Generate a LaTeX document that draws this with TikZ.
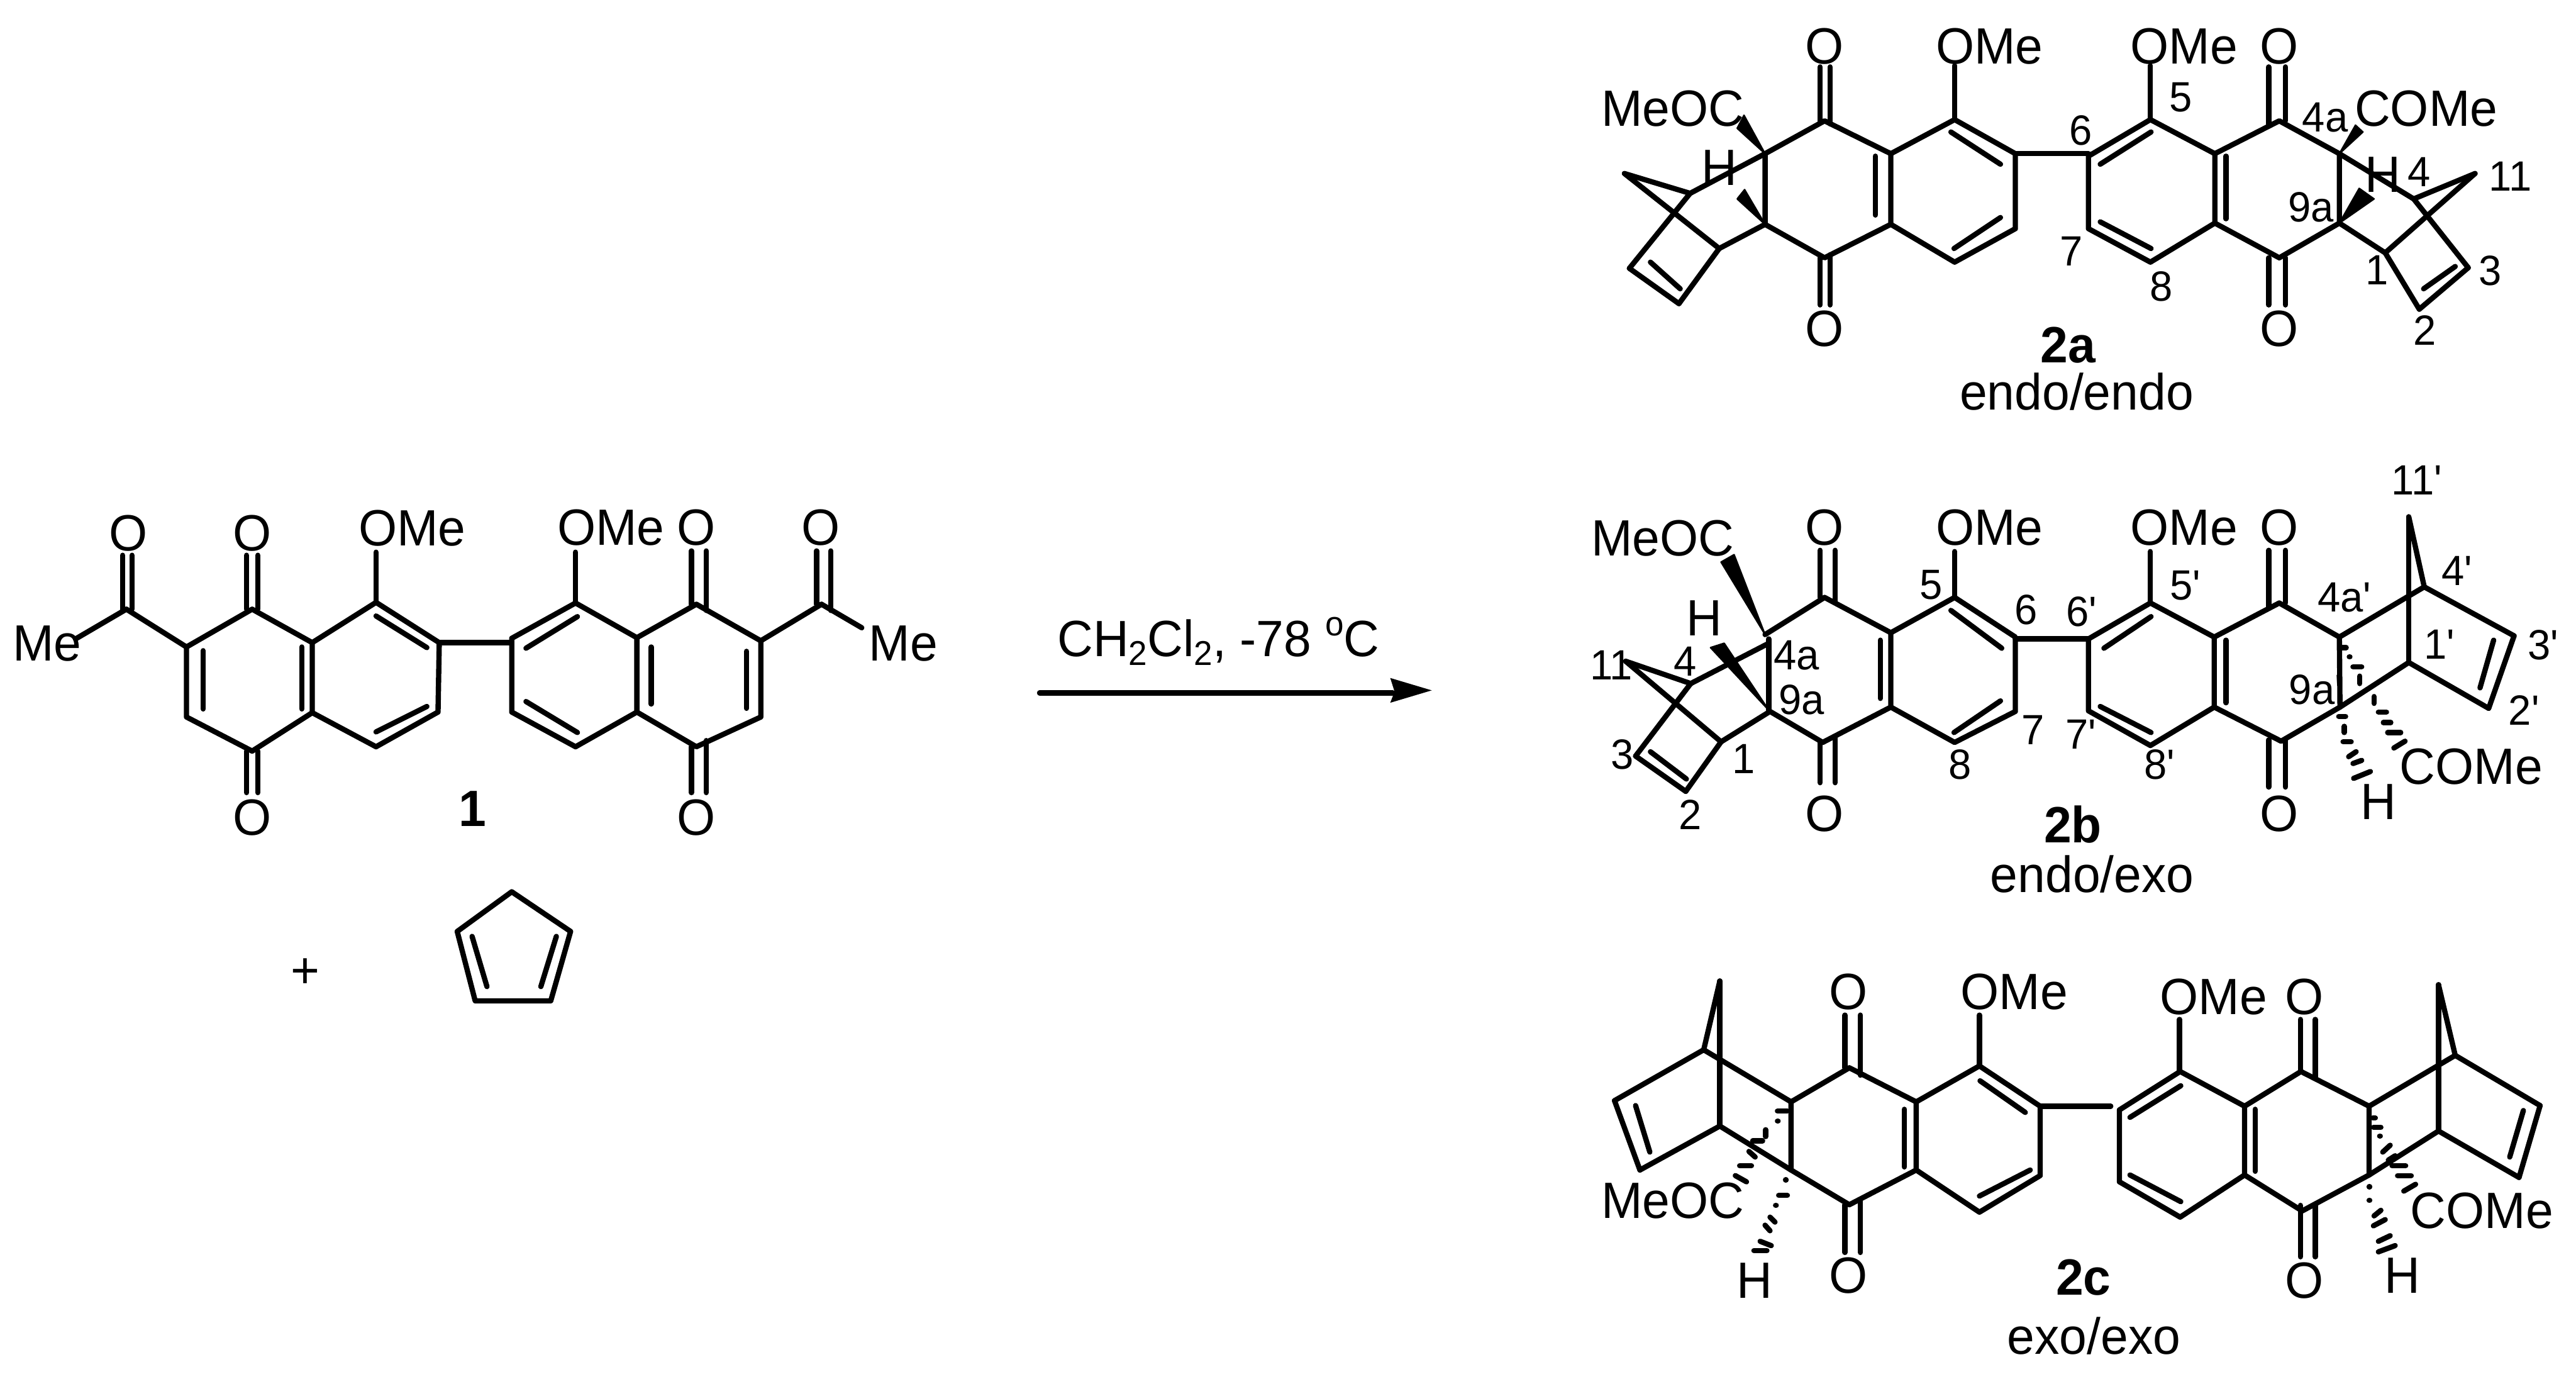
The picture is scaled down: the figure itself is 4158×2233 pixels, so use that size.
\documentclass[tikz,border=0pt]{standalone}
\usepackage{fontspec}
\setmainfont{Liberation Sans}[FakeStretch=0.97,Ligatures=TeXOff]
\newcommand{\bigfs}{\fontsize{23.4pt}{26pt}\selectfont}
\newcommand{\numfs}{\fontsize{19.4pt}{22pt}\selectfont}
\newcommand{\subfs}{\fontsize{15.8pt}{18pt}\selectfont}
\newcommand{\defpts}[1]{\foreach \n/\x/\y in {#1} {\coordinate (\n) at (\x,\y);}}
\newcommand{\bonds}[1]{\foreach \p/\q in {#1} {\draw[bond] (\p) -- (\q);}}
\newcommand{\segs}[1]{\foreach \a/\b/\c/\d in {#1} {\draw[bond] (\a,\b) -- (\c,\d);}}
\tikzset{
  bond/.style={line width=0.085cm,line cap=round,line join=round,black},
  atomlab/.style={font=\bigfs,inner sep=0pt,anchor=base west,black,xshift=-0.03cm},
  atomctr/.style={font=\bigfs,inner sep=0pt,anchor=base,black},
  cpdlab/.style={font=\bigfs\bfseries,inner sep=0pt,anchor=base,black},
  numlab/.style={font=\numfs,inner sep=0pt,anchor=center,black},
  wedgefill/.style={fill=black,draw=black,line width=0.025cm,line join=round},
}
\begin{document}
\begin{tikzpicture}[x=0.01cm,y=-0.01cm]
\useasboundingbox (0,0) rectangle (4158,2233);
\fill[white] (0,0) rectangle (4158,2233);

% ---------- compound 1
\defpts{la/204/983,lb/122/1031,lc/301/1044,ld/301/1157,le/407/1212,lf/504/1150,lg/504/1037,lh/407/983,
li/607/972,lj/709/1037,lk/707/1149,lm/607/1205,
ra/929/973,rb/826/1030,rc/826/1149,rd/929/1205,re/1028/1029,rf/1028/1149,rg/1124/975,rh/1228/1034,ri/1228/1157,rj/1124/1205,rk/1326/975,rl/1391/1013,
bi1/709/1037,bi2/826/1037}
\draw[bond] (lc)--(lh)--(lg)--(lf)--(le)--(ld)--cycle;
\draw[bond] (lg)--(li)--(lj)--(lk)--(lm)--(lf);
\draw[bond] (ra)--(rb)--(rc)--(rd)--(rf)--(re)--cycle;
\draw[bond] (re)--(rg)--(rh)--(ri)--(rj)--(rf);
\bonds{la/lb,la/lc,bi1/bi2,rk/rl,rk/rh}
\segs{198/896/198/983,213/896/213/983,398/896/398/983,416/896/416/983,398/1212/398/1279,416/1212/416/1279,
328/1050/328/1144,487/1044/487/1144,607/994/689/1045,689/1140/607/1181,607/891/607/972,
929/891/929/973,1116/889/1116/975,1140/889/1140/985,1318/889/1318/975,1341/889/1341/985,1116/1205/1116/1279,1140/1195/1140/1279,
1051/1044/1051/1136,1205/1051/1205/1143,932/995/849/1046,849/1132/932/1182}
\node[atomlab] (t1me1) at (23,1066) {Me};
\node[atomctr] (t1o1) at (207,889) {O};
\node[atomctr] (t1o2) at (407,889) {O};
\node[atomctr] (t1o3) at (407,1348) {O};
\node[atomlab] (t1ome1) at (581,881) {OMe};
\node[atomlab] (t1ome2) at (902,880) {OMe};
\node[atomctr] (t1o4) at (1124,880) {O};
\node[atomctr] (t1o5) at (1325,880) {O};
\node[atomctr] (t1o6) at (1124,1348) {O};
\node[atomlab] (t1me2) at (1405,1066) {Me};
\node[cpdlab] (c1) at (763,1333) {1};
\node[atomctr] (plus) at (493,1594) {+};

% ---------- cyclopentadiene
\defpts{cp1/826/1439,cp2/738/1503,cp3/767/1615,cp4/889/1615,cp5/921/1503,cp6/762/1511,cp7/786/1592,cp8/898/1511,cp9/873/1592}
\draw[bond] (cp1)--(cp2)--(cp3)--(cp4)--(cp5)--cycle;
\bonds{cp6/cp7,cp8/cp9}

% ---------- reaction arrow
\coordinate (ar1) at (1678,1118);
\coordinate (ar2) at (2248,1118);
\coordinate (art) at (2311,1114);
\draw[bond] (ar1)--(ar2);
\fill[wedgefill,draw=none] (art) -- (2244,1094) -- (2251,1116) -- (2244,1134) -- cycle;
\node[atomlab] (cond) at (1709,1059) {CH\raisebox{-0.14cm}{\subfs 2}Cl\raisebox{-0.14cm}{\subfs 2}, -78 \raisebox{0.335cm}{\subfs o}C};

% ---------- 2a left
\defpts{A/2945/195,B/2849/248,C/2849/362,D/2945/416,E/3052/248,F/3052/362,G/3155/193,H/3253/248,I/3253/369,J/3155/423,
Na/2728/312,Nb/2622/280,Nc/2775/401,Nd/2630/433,Ne/2710/490}
\draw[bond] (A)--(B)--(C)--(D)--(F)--(E)--cycle;
\draw[bond] (E)--(G)--(H)--(I)--(J)--(F);
\bonds{B/Na,Na/Nb,Nb/Nc,Na/Nd,Nd/Ne,Ne/Nc,Nc/C}
\segs{3027/252/3027/347,3149/213/3229/265,3229/351/3154/401,2664/423/2712/466,
2938/108/2938/195,2954/108/2954/200,2938/416/2938/492,2954/411/2954/492,3155/106/3155/193}
\fill[wedgefill] (B) -- (2815,186) -- (2804,207) -- cycle;
\fill[wedgefill] (C) -- (2816,306) -- (2804,321) -- cycle;
\node[atomlab] (amc) at (2587,204) {MeOC};
\node[atomctr] (ah1) at (2775,299) {H};
\node[atomctr] (ao1) at (2945,103) {O};
\node[atomctr] (ao2) at (2945,559) {O};
\node[atomlab] (aome1) at (3127,103) {OMe};

% ---------- 2a right
\defpts{Ag/3471/193,Ah/3371/252,Ai/3371/369,Aj/3471/423,Ae/3575/248,Af/3575/360,Aa/3679/195,Ab/3776/248,Ac/3776/360,Ad/3679/416,
Pa/3896/321,Pb/3995/280,Pc/3850/408,Pd/3984/432,Pe/3905/499,Bia/3253/248,Bib/3371/248}
\draw[bond] (Ag)--(Ah)--(Ai)--(Aj)--(Af)--(Ae)--cycle;
\draw[bond] (Ae)--(Aa)--(Ab)--(Ac)--(Ad)--(Af);
\bonds{Bia/Bib,Ab/Pa,Pa/Pb,Pb/Pc,Pa/Pd,Pd/Pe,Pe/Pc,Pc/Ac}
\segs{3593/252/3593/353,3472/213/3390/265,3390/358/3472/401,3912/466/3963/430,
3662/108/3662/200,3689/108/3689/195,3662/416/3662/492,3689/416/3689/492,3471/106/3471/193}
\fill[wedgefill] (Ab) -- (3802,202) -- (3814,213) -- cycle;
\fill[wedgefill] (Ac) -- (3808,304) -- (3832,321) -- cycle;
\node[atomlab] (aome2) at (3441,103) {OMe};
\node[atomctr] (ao3) at (3679,103) {O};
\node[atomctr] (ao4) at (3679,559) {O};
\node[atomlab] (acm) at (3803,204) {COMe};
\node[atomctr] (ah2) at (3846,310) {H};
\node[numlab] (an5) at (3520,157) {5};
\node[numlab] (an6) at (3359,211) {6};
\node[numlab] (an4a) at (3753,190) {4a};
\node[numlab] (an9a) at (3730,334) {9a};
\node[numlab] (an4) at (3905,278) {4};
\node[numlab] (an11) at (4052,285) {11};
\node[numlab] (an1) at (3837,436) {1};
\node[numlab] (an2) at (3914,533) {2};
\node[numlab] (an3) at (4020,437) {3};
\node[numlab] (an7) at (3343,405) {7};
\node[numlab] (an8) at (3489,462) {8};
\node[cpdlab] (c2a) at (3338,585) {2a};
\node[atomctr] (d2a) at (3352,661) {endo/endo};

% ---------- 2b left
\defpts{Ba/2945/964,Bb/2849/1024,Bc/2857/1148,Bd/2942/1198,Be/3052/1021,Bf/3052/1141,Bg/3155/964,Bh/3253/1028,Bi/3253/1148,Bj/3155/1198,
Bv1/2855/1031,Bv2/2855/1146,Bw/2855/1038,
Qa/2729/1103,Qb/2624/1067,Qc/2778/1197,Qd/2640/1220,Qe/2721/1277}
\draw[bond] (Bb)--(Ba)--(Be)--(Bf)--(Bd)--(Bc);
\draw[bond] (Be)--(Bg)--(Bh)--(Bi)--(Bj)--(Bf);
\bonds{Bv1/Bv2,Bw/Qa,Qa/Qb,Qb/Qc,Qa/Qd,Qd/Qe,Qe/Qc,Qc/Bc}
\segs{3035/1033/3035/1127,3149/985/3231/1046,3229/1131/3154/1182,2664/1213/2722/1257,
2938/888/2938/964,2962/888/2962/971,2938/1198/2938/1263,2962/1190/2962/1263,3155/890/3155/964}
\fill[wedgefill] (Bb) -- (2799,895) -- (2778,907) -- cycle;
\fill[wedgefill] (Bv2) -- (2783,1038) -- (2761,1045) -- cycle;
\node[atomlab] (bmc) at (2571,897) {MeOC};
\node[atomctr] (bh1) at (2751,1026) {H};
\node[atomctr] (bo1) at (2945,880) {O};
\node[atomctr] (bo2) at (2945,1341) {O};
\node[atomlab] (bome1) at (3127,880) {OMe};
\node[numlab] (bn5) at (3117,944) {5};
\node[numlab] (bn6) at (3270,984) {6};
\node[numlab] (bn4a) at (2900,1057) {4a};
\node[numlab] (bn9a) at (2908,1129) {9a};
\node[numlab] (bn4) at (2720,1067) {4};
\node[numlab] (bn11) at (2601,1073) {11};
\node[numlab] (bn3) at (2619,1217) {3};
\node[numlab] (bn1) at (2815,1225) {1};
\node[numlab] (bn2) at (2728,1315) {2};
\node[numlab] (bn7) at (3282,1178) {7};
\node[numlab] (bn8) at (3164,1234) {8};

% ---------- 2b right
\defpts{Cg/3471/973,Ch/3371/1031,Ci/3371/1147,Cj/3471/1203,Ce/3574/1028,Cf/3574/1141,Ca/3679/973,Cb/3776/1028,Cc/3777/1141,Cd/3682/1196,
Ra/3888/834,Rb/3913/947,Rc/3888/1069,Rd/4058/1026,Re/4017/1143,Bja/3253/1031,Bjb/3371/1031}
\draw[bond] (Cg)--(Ch)--(Ci)--(Cj)--(Cf)--(Ce)--cycle;
\draw[bond] (Ce)--(Ca)--(Cb)--(Cc)--(Cd)--(Cf);
\bonds{Bja/Bjb,Cb/Rb,Rb/Ra,Ra/Rc,Rb/Rd,Rd/Re,Re/Rc,Rc/Cc}
\segs{3593/1033/3593/1134,3472/995/3396/1046,3390/1140/3472/1182,4025/1033/4003/1110,
3662/888/3662/980,3689/888/3689/973,3662/1194/3662/1270,3689/1194/3689/1270,3471/890/3471/973,
3781/1045/3787/1045,3792/1060/3793/1060,3798/1076/3812/1076,3809/1091/3809/1103,3832/1124/3832/1135,3839/1149/3852/1149,3847/1166/3859/1166,3854/1182/3875/1182,3864/1207/3882/1196,
3775/1156/3786/1156,3784/1172/3784/1182,3782/1197/3795/1197,3791/1221/3803/1213,3798/1232/3812/1227,3799/1256/3826/1245}
\node[atomlab] (bome2) at (3441,880) {OMe};
\node[atomctr] (bo3) at (3679,880) {O};
\node[atomctr] (bo4) at (3679,1341) {O};
\node[atomlab] (bcm) at (3876,1265) {COMe};
\node[atomctr] (bh2) at (3839,1322) {H};
\node[numlab] (cn5) at (3527,945) {5'};
\node[numlab] (cn6) at (3360,987) {6'};
\node[numlab] (cn4a) at (3784,964) {4a'};
\node[numlab] (cn9a) at (3738,1113) {9a'};
\node[numlab] (cn11) at (3901,775) {11'};
\node[numlab] (cn4) at (3966,921) {4'};
\node[numlab] (cn1) at (3937,1040) {1'};
\node[numlab] (cn3) at (4105,1041) {3'};
\node[numlab] (cn2) at (4074,1146) {2'};
\node[numlab] (cn7) at (3359,1185) {7'};
\node[numlab] (cn8) at (3486,1234) {8'};
\node[cpdlab] (c2b) at (3346,1360) {2b};
\node[atomctr] (d2b) at (3377,1440) {endo/exo};

% ---------- 2c left
\defpts{Da/2985/1723,Db/2891/1778,Dc/2891/1888,Dd/2985/1944,De/3093/1778,Df/3093/1888,Dg/3195/1720,Dh/3293/1785,Di/3293/1897,Dj/3195/1956,
Sa/2776/1583,Sb/2750/1694,Sc/2776/1817,Sd/2606/1776,Se/2647/1888,Bka/3293/1785,Bkb/3407/1785}
\draw[bond] (Da)--(Db)--(Dc)--(Dd)--(Df)--(De)--cycle;
\draw[bond] (De)--(Dg)--(Dh)--(Di)--(Dj)--(Df);
\bonds{Bka/Bkb,Db/Sb,Sb/Sa,Sa/Sc,Sb/Sd,Sd/Se,Se/Sc,Sc/Dc}
\segs{3074/1790/3074/1883,3196/1744/3269/1795,3277/1888/3195/1930,2640/1784/2663/1859,
2978/1638/2978/1723,3003/1638/3003/1735,2978/1944/2978/2021,3003/1935/3003/2021,3195/1638/3195/1720,
2869/1793/2885/1793,2869/1809/2870/1809,2850/1823/2850/1834,2829/1841/2845/1841,2823/1858/2833/1867,2808/1881/2827/1881,2801/1897/2819/1907,
2882/1904/2883/1904,2871/1929/2885/1929,2866/1945/2867/1945,2857/1964/2865/1972,2849/1977/2857/1986,2841/2003/2859/2010,2831/2018/2852/2018}
\node[atomctr] (co1) at (2984,1629) {O};
\node[atomctr] (co2) at (2984,2087) {O};
\node[atomlab] (come1) at (3167,1629) {OMe};
\node[atomlab] (cmc) at (2587,1966) {MeOC};
\node[atomctr] (ch1) at (2832,2095) {H};

% ---------- 2c right
\defpts{Eg/3519/1729,Eh/3421/1791,Ei/3421/1907,Ej/3519/1964,Ee/3623/1785,Ef/3623/1896,Ea/3714/1729,Eb/3824/1785,Ec/3824/1896,Ed/3716/1954,
Ta/3936/1589,Tb/3963/1703,Tc/3936/1825,Td/4100/1784,Te/4066/1900}
\draw[bond] (Eg)--(Eh)--(Ei)--(Ej)--(Ef)--(Ee)--cycle;
\draw[bond] (Ee)--(Ea)--(Eb)--(Ec)--(Ed)--(Ef);
\bonds{Eb/Tb,Tb/Ta,Ta/Tc,Tb/Td,Td/Te,Te/Tc,Tc/Ec}
\segs{3640/1790/3640/1890,3520/1752/3438/1803,3438/1896/3520/1939,4073/1792/4051/1867,
3713/1645/3713/1729,3737/1645/3737/1740,3713/1945/3713/2028,3737/1945/3737/2028,3518/1645/3518/1729,
3830/1804/3834/1804,3831/1819/3843/1819,3841/1833/3842/1833,3846/1859/3858/1848,3855/1872/3866/1865,3861/1881/3883/1881,3870/1897/3892/1897,3880/1922/3899/1911,
3824/1915/3825/1915,3824/1937/3825/1937,3832/1962/3843/1953,3831/1978/3850/1968,3839/2003/3858/1994,3839/2020/3866/2010}
\node[atomlab] (come2) at (3489,1637) {OMe};
\node[atomctr] (co3) at (3719,1637) {O};
\node[atomctr] (co4) at (3719,2095) {O};
\node[atomlab] (ccm) at (3893,1982) {COMe};
\node[atomctr] (ch2) at (3878,2087) {H};
\node[cpdlab] (c2c) at (3363,2090) {2c};
\node[atomctr] (d2c) at (3380,2185) {exo/exo};
\end{tikzpicture}
\end{document}
